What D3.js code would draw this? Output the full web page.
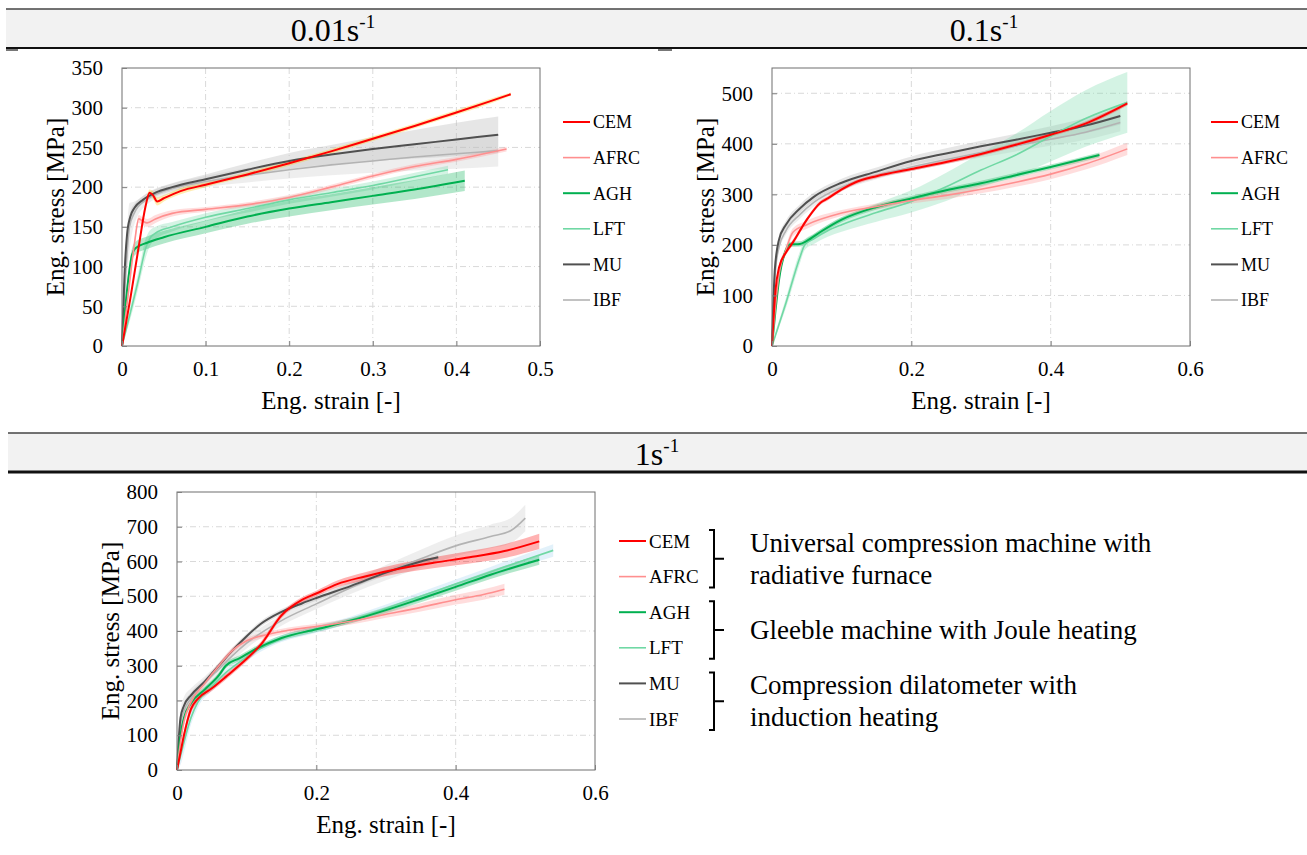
<!DOCTYPE html>
<html>
<head>
<meta charset="utf-8">
<script src="https://cdn.jsdelivr.net/npm/d3@7"></script>
<style>
  body { margin: 0; background: #fff; }
  svg { font-family: "Liberation Serif", "Times New Roman", serif; }
</style>
</head>
<body>
<svg id="chart" width="1307" height="855"></svg>
<script>
// labs and strain rates
const series = ["CEM", "AFRC", "AGH", "LFT", "MU", "IBF"];
const rates = ["0.01s", "0.1s", "1s"];
const groups = [
  ["Universal compression machine with", "radiative furnace"],
  ["Gleeble machine with Joule heating"],
  ["Compression dilatometer with", "induction heating"]
];

// tick values
const xTicks001 = [0, 0.1, 0.2, 0.3, 0.4, 0.5];
const yTicks001 = [0, 50, 100, 150, 200, 250, 300, 350];
const xTicks01 = [0, 0.2, 0.4, 0.6];
const yTicks01 = [0, 100, 200, 300, 400, 500];
const xTicks1 = [0, 0.2, 0.4, 0.6];
const yTicks1 = [0, 100, 200, 300, 400, 500, 600, 700, 800];

// curves: [strain, stress, scatter half-width]
// 0.01 s^-1
const cem001 = [[0,0,2],[0.01,60,3],[0.02,125,4],[0.028,175,4],[0.033,193,4],[0.037,190,5],[0.042,182,5],[0.05,186,4],[0.07,195,4],[0.1,203,3],[0.15,216,3],[0.2,230,3],[0.25,245,3],[0.3,261,3],[0.35,277,3],[0.4,294,3],[0.44,308,3],[0.465,317,2]];
const afrc001 = [[0,0,2],[0.008,70,3],[0.015,130,4],[0.02,160,5],[0.025,157,5],[0.03,155,5],[0.04,160,5],[0.06,167,4],[0.1,172,3],[0.15,178,3],[0.2,187,3],[0.25,200,3],[0.3,214,3],[0.35,226,3],[0.4,235,3],[0.46,248,3]];
const agh001 = [[0,0,5],[0.005,60,8],[0.012,115,8],[0.016,123,8],[0.03,130,8],[0.05,137,8],[0.1,150,8],[0.15,163,9],[0.2,173,10],[0.25,181,10],[0.3,189,11],[0.35,197,12],[0.41,208,13]];
const lft001 = [[0,0,5],[0.01,42,8],[0.02,85,10],[0.028,122,12],[0.033,135,10],[0.04,142,8],[0.06,150,6],[0.1,162,5],[0.15,173,5],[0.2,184,5],[0.25,193,5],[0.3,202,5],[0.35,213,5],[0.39,222,5]];
const mu001 = [[0,0,2],[0.003,90,5],[0.006,140,6],[0.01,163,6],[0.015,174,5],[0.025,184,5],[0.04,193,5],[0.06,200,5],[0.1,210,6],[0.15,222,8],[0.2,233,10],[0.25,241,12],[0.3,248,15],[0.35,254,18],[0.4,260,21],[0.45,266,23]];
const ibf001 = [[0,0,2],[0.005,100,25],[0.009,150,30],[0.015,168,14],[0.03,185,7],[0.05,195,6],[0.1,207,7],[0.15,215,9],[0.2,222,11],[0.25,228,13],[0.3,233,15],[0.35,238,17],[0.4,242,19],[0.45,246,20]];

// 0.1 s^-1
const cem01 = [[0,0,3],[0.005,110,5],[0.01,155,5],[0.02,185,5],[0.03,205,5],[0.05,250,4],[0.07,284,4],[0.08,292,4],[0.1,310,4],[0.12,324,4],[0.15,336,4],[0.2,350,4],[0.25,364,4],[0.3,380,4],[0.35,398,4],[0.4,418,4],[0.45,440,4],[0.51,480,4]];
const afrc01 = [[0,0,3],[0.005,80,6],[0.01,140,8],[0.02,190,8],[0.03,225,8],[0.05,240,8],[0.1,263,6],[0.15,276,6],[0.2,288,6],[0.25,298,7],[0.3,310,8],[0.35,324,9],[0.4,340,10],[0.45,360,11],[0.51,390,12]];
const agh01 = [[0,0,3],[0.005,70,5],[0.01,130,6],[0.02,190,6],[0.025,201,5],[0.04,202,5],[0.05,208,5],[0.07,226,5],[0.1,250,5],[0.15,275,5],[0.2,292,5],[0.25,308,5],[0.3,322,5],[0.35,338,5],[0.4,354,5],[0.47,378,5]];
const lft01 = [[0,0,5],[0.02,85,10],[0.04,175,12],[0.047,200,10],[0.06,212,10],[0.08,228,12],[0.1,240,14],[0.15,264,18],[0.2,286,22],[0.25,315,28],[0.3,348,34],[0.35,378,42],[0.4,415,50],[0.45,450,56],[0.51,482,60]];
const mu01 = [[0,0,3],[0.004,150,8],[0.01,210,8],[0.02,240,8],[0.04,272,8],[0.06,295,8],[0.1,323,8],[0.15,345,8],[0.2,366,9],[0.25,381,10],[0.3,395,11],[0.35,408,12],[0.4,422,13],[0.45,436,15],[0.5,455,17]];
const ibf01 = [[0,0,3],[0.005,150,8],[0.01,195,8],[0.02,228,8],[0.04,260,8],[0.06,284,8],[0.1,314,7],[0.15,337,7],[0.2,354,8],[0.25,369,9],[0.3,383,10],[0.35,396,11],[0.4,409,13],[0.45,423,15],[0.5,442,17]];

// 1 s^-1
const cem1 = [[0,0,5],[0.005,50,10],[0.01,100,12],[0.02,175,12],[0.03,205,10],[0.05,235,8],[0.07,268,8],[0.1,320,8],[0.12,360,8],[0.15,445,8],[0.18,490,8],[0.2,508,8],[0.23,535,10],[0.27,557,12],[0.32,580,14],[0.37,597,16],[0.42,612,18],[0.47,630,20],[0.52,658,22]];
const afrc1 = [[0,0,5],[0.005,80,10],[0.01,140,12],[0.02,195,10],[0.04,250,8],[0.06,300,8],[0.08,345,8],[0.1,372,8],[0.13,390,8],[0.16,402,8],[0.2,413,8],[0.25,428,9],[0.3,448,10],[0.35,468,12],[0.4,490,14],[0.44,505,15],[0.47,520,16]];
const agh1 = [[0,0,5],[0.005,100,10],[0.01,150,10],[0.02,192,8],[0.04,232,8],[0.06,272,8],[0.07,300,8],[0.09,322,8],[0.11,345,8],[0.15,380,8],[0.2,405,8],[0.25,430,8],[0.3,460,9],[0.35,493,10],[0.4,527,11],[0.45,562,12],[0.52,605,14]];
const lft1 = [[0,0,8],[0.005,40,25],[0.01,80,30],[0.02,150,20],[0.03,195,15],[0.05,240,12],[0.07,280,10],[0.1,325,10],[0.12,350,10],[0.15,378,10],[0.2,405,10],[0.25,432,10],[0.3,465,11],[0.35,500,12],[0.4,535,13],[0.45,570,14],[0.5,605,16],[0.54,632,18]];
const mu1 = [[0,0,4],[0.005,150,8],[0.01,185,8],[0.02,215,8],[0.04,255,8],[0.06,300,8],[0.08,345,8],[0.1,385,8],[0.12,420,8],[0.15,455,8],[0.18,480,8],[0.2,495,8],[0.25,530,8],[0.3,568,8],[0.35,600,8],[0.375,612,8]];
const ibf1 = [[0,0,5],[0.005,130,40],[0.01,170,40],[0.02,205,30],[0.04,250,20],[0.06,290,18],[0.08,330,16],[0.1,365,15],[0.15,430,15],[0.2,478,15],[0.25,525,18],[0.3,568,22],[0.35,608,26],[0.4,645,30],[0.45,672,34],[0.48,690,36],[0.5,725,38]];

const colors = { CEM: "#ff0000", AFRC: "#ff8f8f", AGH: "#00b050", LFT: "#70d8a4", MU: "#505050", IBF: "#b3b3b3" };
const bandFill = { CEM: "#ff0000", AFRC: "#ff8f8f", AGH: "#00b050", LFT: "#70d8a4", MU: "#b8b8b8", IBF: "#cfcfcf" };
const widths = { CEM: 2, AFRC: 1.6, AGH: 2, LFT: 1.6, MU: 2, IBF: 1.6 };
const drawOrder = ["IBF", "MU", "LFT", "AGH", "AFRC", "CEM"];

const W = 418, H = 278;
const panels = [
  { left: 122, top: 68, xMax: 0.5, yMax: 350, xTicks: xTicks001, yTicks: yTicks001,
    curves: { CEM: cem001, AFRC: afrc001, AGH: agh001, LFT: lft001, MU: mu001, IBF: ibf001 },
    bandColors: { CEM: "#ffc000" }, yTitleX: 55, legend: { x: 563, y: 122, size: 18 } },
  { left: 772, top: 68, xMax: 0.6, yMax: 550, xTicks: xTicks01, yTicks: yTicks01,
    curves: { CEM: cem01, AFRC: afrc01, AGH: agh01, LFT: lft01, MU: mu01, IBF: ibf01 },
    bandColors: {}, yTitleX: 705, legend: { x: 1211, y: 122, size: 18 } },
  { left: 177, top: 492, xMax: 0.6, yMax: 800, xTicks: xTicks1, yTicks: yTicks1,
    curves: { CEM: cem1, AFRC: afrc1, AGH: agh1, LFT: lft1, MU: mu1, IBF: ibf1 },
    bandColors: { LFT: "#9fd0ee" }, yTitleX: 110, legend: { x: 619, y: 541, size: 19 } }
];

const svg = d3.select("#chart");
const serif = '"Liberation Serif", "Times New Roman", serif';

// header bands
function header(x0, y0, y1, bottomW) {
  svg.append("rect").attr("x", x0).attr("y", y0).attr("width", 1307 - x0).attr("height", y1 - y0).attr("fill", "#f2f2f2");
  svg.append("line").attr("x1", x0).attr("x2", 1307).attr("y1", y0).attr("y2", y0).attr("stroke", "#444").attr("stroke-width", 1.5);
  svg.append("line").attr("x1", x0).attr("x2", 1307).attr("y1", y1).attr("y2", y1).attr("stroke", "#111").attr("stroke-width", bottomW);
}
header(6, 9, 48, 2);
header(8, 433, 472, 3);
svg.append("rect").attr("x", 6).attr("y", 49).attr("width", 12).attr("height", 2).attr("fill", "#777");
svg.append("rect").attr("x", 658).attr("y", 49).attr("width", 14).attr("height", 2).attr("fill", "#777");

function rateTitle(x, y, label) {
  const t = svg.append("text").attr("x", x).attr("y", y).attr("text-anchor", "middle")
    .attr("font-size", 32).attr("fill", "#000").text(label);
  t.append("tspan").attr("font-size", 19).attr("dy", -13).text("-1");
}
rateTitle(333, 41, rates[0]);
rateTitle(984, 41, rates[1]);
rateTitle(657, 465, rates[2]);

const tickFmt = d => d === 0 ? "0" : String(d);

panels.forEach(p => {
  const x = d3.scaleLinear().domain([0, p.xMax]).range([0, W]);
  const y = d3.scaleLinear().domain([0, p.yMax]).range([H, 0]);
  const g = svg.append("g").attr("transform", `translate(${p.left},${p.top})`);

  // grid
  g.selectAll(".gx").data(p.xTicks.filter(d => d > 0 && d < p.xMax)).enter().append("line")
    .attr("x1", d => x(d)).attr("x2", d => x(d)).attr("y1", 0).attr("y2", H)
    .attr("stroke", "#d9d9d9").attr("stroke-dasharray", "6,3,1,3");
  g.selectAll(".gy").data(p.yTicks.filter(d => d > 0 && d < p.yMax)).enter().append("line")
    .attr("x1", 0).attr("x2", W).attr("y1", d => y(d)).attr("y2", d => y(d))
    .attr("stroke", "#d9d9d9").attr("stroke-dasharray", "6,3,1,3");

  // scatter bands
  drawOrder.forEach(s => {
    const area = d3.area().curve(d3.curveMonotoneX)
      .x(d => x(d[0])).y0(d => y(Math.max(0, d[1] - d[2]))).y1(d => y(d[1] + d[2]));
    g.append("path").datum(p.curves[s]).attr("d", area)
      .attr("fill", p.bandColors[s] || bandFill[s])
      .attr("fill-opacity", s === "MU" || s === "IBF" ? 0.35 : 0.3);
  });

  // mean curves
  drawOrder.forEach(s => {
    const line = d3.line().curve(d3.curveMonotoneX).x(d => x(d[0])).y(d => y(d[1]));
    g.append("path").datum(p.curves[s]).attr("d", line)
      .attr("fill", "none").attr("stroke", colors[s]).attr("stroke-width", widths[s])
      .attr("stroke-linejoin", "round");
  });

  // frame
  g.append("rect").attr("width", W).attr("height", H).attr("fill", "none").attr("stroke", "#6e6e6e");

  const ya = g.append("g").call(d3.axisLeft(y).tickValues(p.yTicks).tickSize(-5).tickPadding(19).tickFormat(tickFmt));
  const xa = g.append("g").attr("transform", `translate(0,${H})`)
    .call(d3.axisBottom(x).tickValues(p.xTicks).tickSize(-5).tickPadding(15).tickFormat(tickFmt));
  [ya, xa].forEach(a => {
    a.attr("font-family", serif).attr("font-size", 21);
    a.select(".domain").remove();
    a.selectAll(".tick line").attr("stroke", "#808080");
    a.selectAll(".tick text").attr("fill", "#000");
  });

  g.append("text").attr("x", W / 2).attr("y", H + 63).attr("text-anchor", "middle")
    .attr("font-size", 25).attr("fill", "#000").text("Eng. strain [-]");
  svg.append("text").attr("transform", `translate(${p.yTitleX},${p.top + H / 2}) rotate(-90)`)
    .attr("text-anchor", "middle").attr("dy", "0.35em")
    .attr("font-size", 25).attr("fill", "#000").text("Eng. stress [MPa]");

  // legend
  const lg = svg.append("g").attr("transform", `translate(${p.legend.x},${p.legend.y})`);
  series.forEach((s, i) => {
    const row = lg.append("g").attr("transform", `translate(0,${i * 35.6})`);
    row.append("line").attr("x1", 0).attr("x2", 27).attr("stroke", colors[s]).attr("stroke-width", widths[s]);
    row.append("text").attr("x", 30).attr("dy", "0.35em").attr("font-size", p.legend.size)
      .attr("fill", "#000").text(s);
  });
});

// equipment groups next to the 1 s^-1 legend
const rowY = i => 541 + i * 35.6;
groups.forEach((lines, k) => {
  const top = rowY(2 * k) - 11, bot = rowY(2 * k + 1) + 11, mid = (top + bot) / 2;
  const bx = 714;
  svg.append("path")
    .attr("d", `M${bx - 5},${top}H${bx}V${bot}H${bx - 5}M${bx},${mid}H${bx + 10}`)
    .attr("fill", "none").attr("stroke", "#000").attr("stroke-width", 2);
  const t = svg.append("text").attr("x", 750).attr("font-size", 27).attr("fill", "#000");
  const baseY = lines.length === 1 ? mid + 9 : mid - 7;
  lines.forEach((l, j) => {
    t.append("tspan").attr("x", 750).attr("y", baseY + j * 32).text(l);
  });
});
</script>
</body>
</html>
